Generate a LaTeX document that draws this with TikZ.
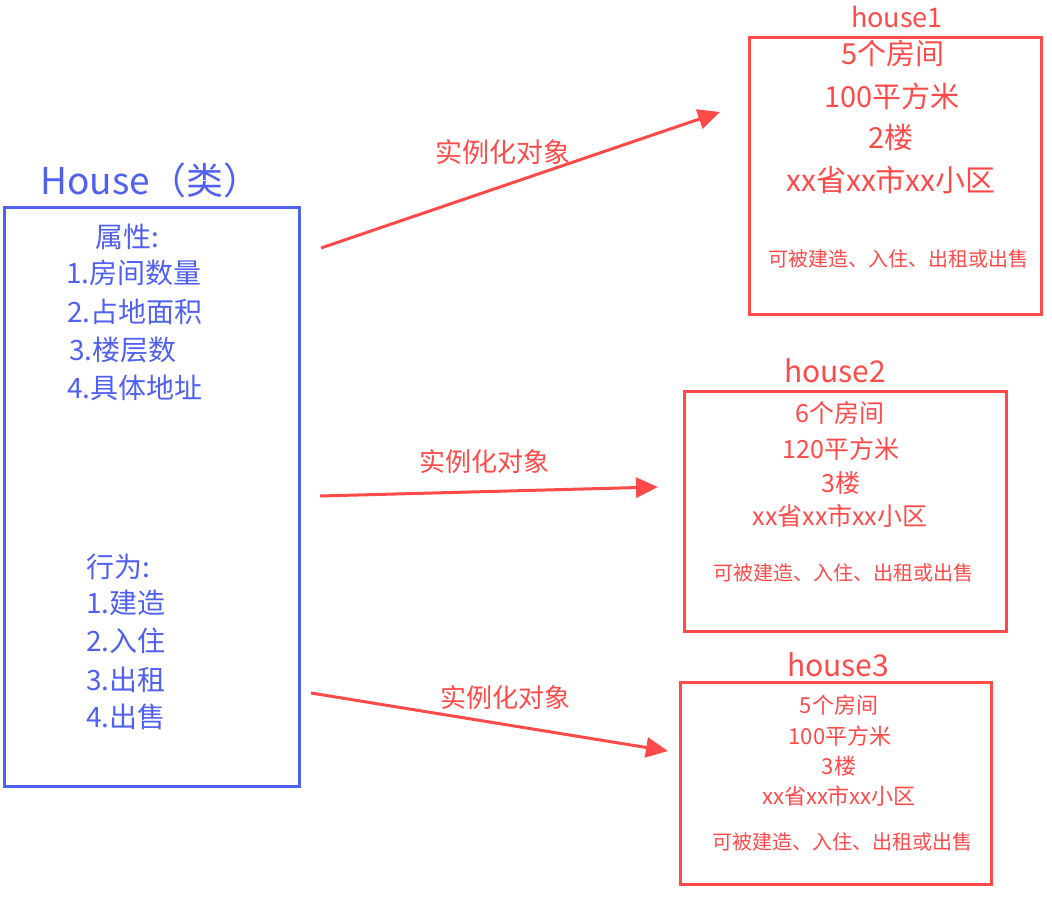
\documentclass[tikz,border=0pt]{standalone}
\usepackage{fontspec}
\setmainfont{Noto Sans CJK SC}
\usetikzlibrary{arrows.meta}
\definecolor{cblue}{RGB}{80,96,240}
\definecolor{cred}{RGB}{255,74,74}
\begin{document}
\begin{tikzpicture}[x=1pt,y=-1pt,
  fs/.style={font=\fontsize{#1}{#1}\selectfont},
  btext/.style={text=cblue, inner sep=0pt, fs=28},
  rtext/.style={text=cred, inner sep=0pt},
  bluebox/.style={draw=cblue, line width=3pt, inner sep=0pt},
  redbox/.style={draw=cred, line width=3pt, inner sep=0pt},
  inst/.style={draw=cred, line width=3pt, -{Triangle[length=22pt,width=20pt]}},
]
\useasboundingbox (0,0) rectangle (1052,897);

% class box
\node[bluebox, minimum width=295pt, minimum height=579pt] (cls) at (152,497) {};
\node[btext, fs=37, anchor=west] (clsname) at (40,180) {House（类）};
\node[btext] (attr) at (127,237) {属性:};
\node[btext] (a1) at (134,273) {1.房间数量};
\node[btext] (a2) at (135,312) {2.占地面积};
\node[btext] (a3) at (123,350) {3.楼层数};
\node[btext] (a4) at (135,388) {4.具体地址};
\node[btext] (beh) at (118,567) {行为:};
\node[btext] (b1) at (126,603) {1.建造};
\node[btext] (b2) at (126,641) {2.入住};
\node[btext] (b3) at (126,680) {3.出租};
\node[btext] (b4) at (126,717) {4.出售};

% house1
\node[redbox, minimum width=292pt, minimum height=277pt] (h1) at (895.5,176) {};
\node[rtext, fs=27] (h1name) at (897,17) {house1};
\node[rtext, fs=29] (h1a) at (893,53) {5个房间};
\node[rtext, fs=29] (h1b) at (892,96) {100平方米};
\node[rtext, fs=29] (h1c) at (891,137) {2楼};
\node[rtext, fs=30] (h1d) at (891,180) {xx省xx市xx小区};
\node[rtext, fs=20] (h1e) at (898,259) {可被建造、入住、出租或出售};

% house2
\node[redbox, minimum width=322pt, minimum height=240pt] (h2) at (845.5,511.5) {};
\node[rtext, fs=30] (h2name) at (835,371) {house2};
\node[rtext, fs=25] (h2a) at (840,413) {6个房间};
\node[rtext, fs=25] (h2b) at (841,449) {120平方米};
\node[rtext, fs=25] (h2c) at (841,483) {3楼};
\node[rtext, fs=25] (h2d) at (840,516) {xx省xx市xx小区};
\node[rtext, fs=20] (h2e) at (843,573) {可被建造、入住、出租或出售};

% house3
\node[redbox, minimum width=311pt, minimum height=202pt] (h3) at (836,783.5) {};
\node[rtext, fs=30] (h3name) at (838,665) {house3};
\node[rtext, fs=22] (h3a) at (839,705) {5个房间};
\node[rtext, fs=22] (h3b) at (840,736) {100平方米};
\node[rtext, fs=22] (h3c) at (839,766) {3楼};
\node[rtext, fs=22] (h3d) at (839,796) {xx省xx市xx小区};
\node[rtext, fs=20] (h3e) at (842,842) {可被建造、入住、出租或出售};

% connectors
\coordinate (s1) at (321,248);
\coordinate (e1) at (720,112);
\coordinate (s2) at (320,496);
\coordinate (e2) at (658,487);
\coordinate (s3) at (311,693);
\coordinate (e3) at (668,751);
\draw[inst] (s1) -- (e1);
\draw[inst] (s2) -- (e2);
\draw[inst] (s3) -- (e3);
\node[rtext, fs=27] (l1) at (503,152) {实例化对象};
\node[rtext, fs=26] (l2) at (484,462) {实例化对象};
\node[rtext, fs=26] (l3) at (505,698) {实例化对象};
\end{tikzpicture}
\end{document}
